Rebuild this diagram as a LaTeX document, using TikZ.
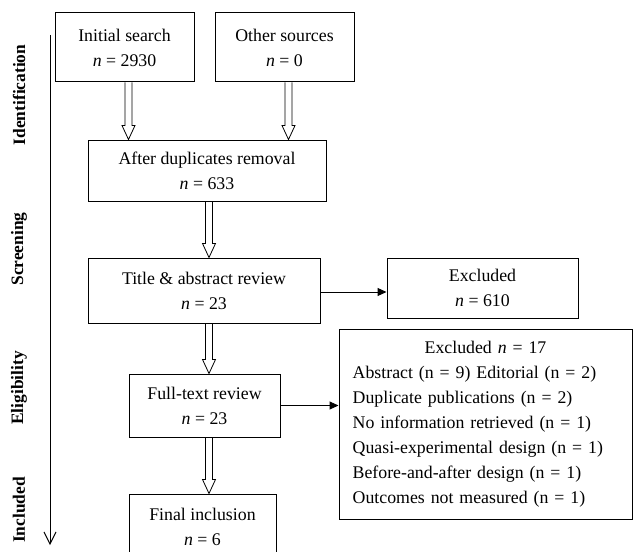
\documentclass[tikz,border=0pt]{standalone}
\usepackage{fontspec}
\setmainfont{Liberation Serif}
\usetikzlibrary{calc,positioning,arrows.meta}
\tikzstyle{box}    = [draw, line width=0.5pt, align=center, inner sep=0pt]
\tikzstyle{phase}  = [rotate=90, font=\fontsize{8.7}{10}\selectfont\bfseries]
\tikzstyle{arrow}  = [line width=0.5pt, -{Triangle[length=4.5pt,width=4pt]}]
\tikzstyle{hollow} = [line width=0.5pt, to path={let \p1=(\tikztostart), \p2=(\tikztotarget) in (\x1-1.75pt,\y1) -- (\x1-1.75pt,\y2+7pt) -- (\x1-3.25pt,\y2+7pt) -- (\x1,\y2) -- (\x1+3.25pt,\y2+7pt) -- (\x1+1.75pt,\y2+7pt) -- (\x1+1.75pt,\y1)}]

\begin{document}
\begin{tikzpicture}[x=0.5pt, y=-0.5pt, font=\fontsize{8.9}{12.5}\selectfont]
		\clip (0,0) rectangle (636,551);
		% phases
		\draw[line width=0.5pt, -{Straight Barb[length=6pt,width=6pt]}] (50,35) coordinate (top) -- (50,545) coordinate (bottom);
		\node[phase] (ident) at (19,95) {Identification};
		\node[phase] (screen) at (19,249) {Screening};
		\node[phase] (elig) at (19,388) {Eligibility};
		\node[phase] (incl) at (19,510) {Included};
		% main column
		\node[box, minimum width=69.5pt, minimum height=34.5pt] (init) at (124.5,47.5) {Initial search\\\textit{n} = 2930};
		\node[box, minimum width=69.5pt, minimum height=34.5pt] (other) at (284.5,47.5) {Other sources\\\textit{n} = 0};
		\node[box, minimum width=119pt, minimum height=30.5pt] (dup) at (207,170.5) {After duplicates removal\\\textit{n} = 633};
		\node[box, minimum width=116pt, minimum height=32.5pt] (title) at (204,290.5) {Title \& abstract review\\\textit{n} = 23};
		\node[box, minimum width=75.5pt, minimum height=31.5pt] (full) at (204.5,405.5) {Full-text review\\\textit{n} = 23};
		\node[box, minimum width=73.5pt, minimum height=32.5pt] (final) at (202.5,526.5) {Final inclusion\\\textit{n} = 6};
		% exclusions
		\node[box, minimum width=95.5pt, minimum height=30pt] (excl) at (482.5,288) {Excluded\\\textit{n} = 610};
		\node[draw, line width=0.5pt, inner xsep=6.85pt, inner ysep=0pt, text width=132.8pt, minimum height=95pt] (reasons) at (485.5,424) {\noindent\centering Excluded \textit{n} = 17\par
			\raggedright Abstract (n = 9) Editorial (n = 2)\\
			Duplicate publications (n = 2)\\
			No information retrieved (n = 1)\\
			Quasi-experimental design (n = 1)\\
			Before-and-after design (n = 1)\\
			Outcomes not measured (n = 1)\par};
		% connectors
		\draw ([xshift=2pt]init.south) to[hollow] (dup.north);
		\draw ([xshift=2pt]other.south) to[hollow] (dup.north);
		\draw ([xshift=1pt]dup.south) to[hollow] (title.north);
		\draw ([xshift=2.5pt]title.south) to[hollow] (full.north);
		\draw ([xshift=2.25pt]full.south) to[hollow] (final.north);
		\draw[arrow] ([yshift=-0.75pt]title.east) -- ([yshift=-0.75pt]title.east -| excl.west);
		\draw[arrow] (full.east) -- (full.east -| reasons.west);
	\end{tikzpicture}
\end{document}
